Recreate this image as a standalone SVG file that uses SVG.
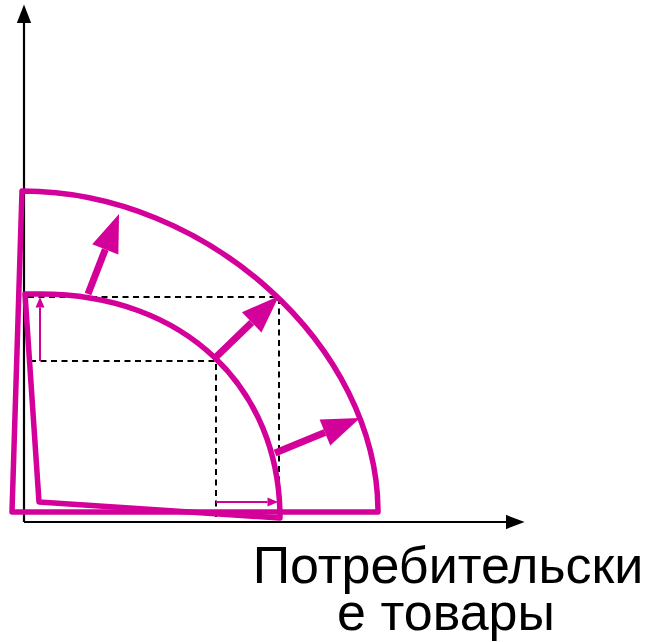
<svg xmlns="http://www.w3.org/2000/svg" width="652" height="642" viewBox="0 0 652 642">
<style>
.axis{stroke:#000;stroke-width:2.2;fill:none}
.dash{stroke:#000;stroke-width:2;fill:none;stroke-dasharray:6 4.5}
.shape{stroke:#D4009A;stroke-width:5.5;fill:none;stroke-linejoin:round}
.thick{stroke:#D4009A;stroke-width:7;fill:none}
.thin{stroke:#D4009A;stroke-width:2;fill:none}
.label{font-family:"Liberation Sans",Arial,sans-serif;font-size:52px;fill:#000;text-anchor:middle}
</style>
<defs>
<marker id="headK" markerUnits="userSpaceOnUse" orient="auto" refX="0" refY="0" markerWidth="20" markerHeight="20" viewBox="0 -6 14 12" overflow="visible">
<path d="M0,-5 L13,0 L0,5 z" fill="#000"/>
</marker>
<marker id="headBig" markerUnits="userSpaceOnUse" orient="auto" refX="0" refY="0" markerWidth="40" markerHeight="30" viewBox="0 -15 40 30" overflow="visible">
<path d="M0,-14 L38,0 L0,14 z" fill="#D4009A"/>
</marker>
<marker id="headSmall" markerUnits="userSpaceOnUse" orient="auto" refX="0" refY="0" markerWidth="12" markerHeight="10" viewBox="0 -5 12 10" overflow="visible">
<path d="M0,-4.5 L10.5,0 L0,4.5 z" fill="#D4009A"/>
</marker>
</defs>
<g id="axes">
<path class="axis" d="M24,522 L24,23" marker-end="url(#headK)"/>
<path class="axis" d="M24,522 L506,522" marker-end="url(#headK)"/>
</g>
<g id="guides">
<path class="dash" d="M28,297 L279,297 L279,512"/>
<path class="dash" d="M30,361 L216,361 L216,522"/>
</g>
<g id="outer-curve">
<path class="shape" d="M22,191 C207,191 378,347 378,512 L12,512 Z"/>
</g>
<g id="inner-curve">
<path class="shape" d="M25,294 L40,294 C185,294 280,388 280,518 L39,502 Z"/>
</g>
<g id="connectors">
<path class="thick" d="M88,294 L105.3,249.4" marker-end="url(#headBig)"/>
<path class="thick" d="M215,358 L251.7,322.4" marker-end="url(#headBig)"/>
<path class="thick" d="M275,453 L324.9,432.5" marker-end="url(#headBig)"/>
<path class="thin" d="M40,361 L40,307.5" marker-end="url(#headSmall)"/>
<path class="thin" d="M216,502 L267.5,502" marker-end="url(#headSmall)"/>
</g>
<g id="label">
<text class="label" x="448" y="583">Потребительски</text>
<text class="label" x="446" y="630">е товары</text>
</g>
</svg>
